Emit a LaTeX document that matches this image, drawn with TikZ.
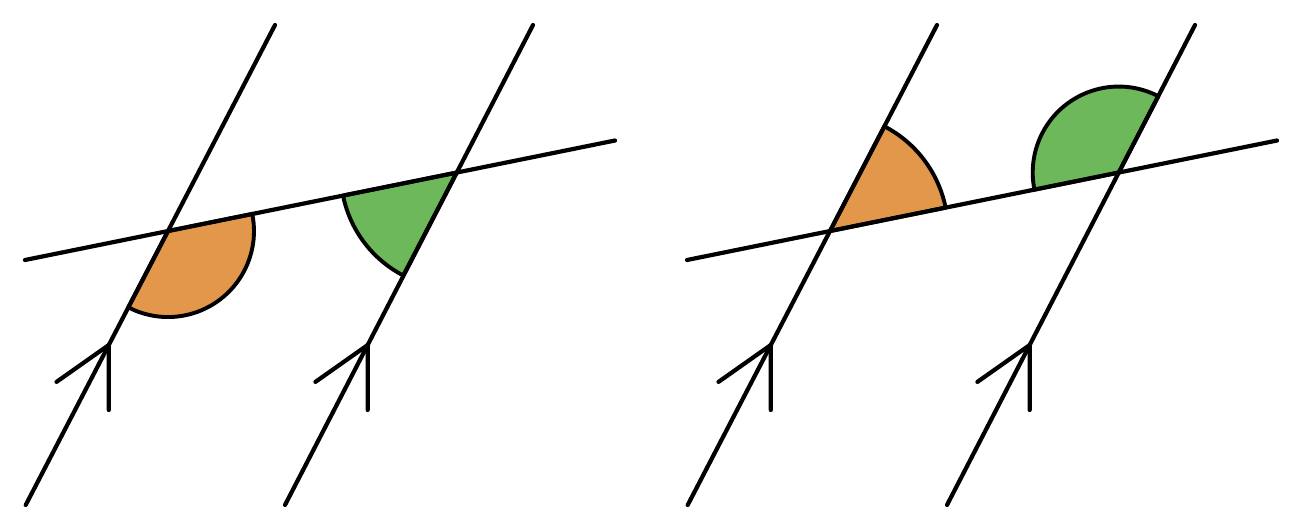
\documentclass[tikz,border=0pt]{standalone}
\usepackage{tikz}
\definecolor{angorange}{HTML}{E3974A}
\definecolor{anggreen}{HTML}{6DB85B}
\tikzset{
  ln/.style={line width=4.2pt, line cap=round, line join=round, black},
  sector/.style={line width=3.9pt, line join=round, draw=black},
}
\begin{document}
\begin{tikzpicture}[x=1pt,y=1pt]
\useasboundingbox (0,0) rectangle (1300,-531);
\fill[white] (0,0) rectangle (1300,-531);
% ---- left diagram ----
\coordinate (L1a) at (25.7,-505); \coordinate (L1b) at (275,-25);
\coordinate (L2a) at (285,-505);  \coordinate (L2b) at (533,-25);
\coordinate (T1a) at (25,-260);   \coordinate (T1b) at (615,-140.5);
\coordinate (I1) at (intersection of L1a--L1b and T1a--T1b);
\coordinate (I2) at (intersection of L2a--L2b and T1a--T1b);
% ---- right diagram ----
\coordinate (L3a) at (687.7,-505); \coordinate (L3b) at (937,-25);
\coordinate (L4a) at (947,-505);   \coordinate (L4b) at (1195,-25);
\coordinate (T2a) at (687,-260);   \coordinate (T2b) at (1277,-140.5);
\coordinate (I3) at (intersection of L3a--L3b and T2a--T2b);
\coordinate (I4) at (intersection of L4a--L4b and T2a--T2b);
% sectors
\filldraw[sector, fill=angorange] (I1) -- ++(11.45:86pt) arc[start angle=11.45, end angle=-117.45, radius=86pt] -- cycle;
\filldraw[sector, fill=anggreen] (I2) -- ++(191.45:116pt) arc[start angle=191.45, end angle=242.55, radius=116pt] -- cycle;
\filldraw[sector, fill=angorange] (I3) -- ++(11.45:118pt) arc[start angle=11.45, end angle=62.55, radius=118pt] -- cycle;
\filldraw[sector, fill=anggreen] (I4) -- ++(62.55:86pt) arc[start angle=62.55, end angle=191.45, radius=86pt] -- cycle;
% lines
\draw[ln] (L1a) -- (L1b);
\draw[ln] (L2a) -- (L2b);
\draw[ln] (T1a) -- (T1b);
\draw[ln] (L3a) -- (L3b);
\draw[ln] (L4a) -- (L4b);
\draw[ln] (T2a) -- (T2b);
% arrow chevrons
\coordinate (A1) at (108.8,-345);
\coordinate (A2) at (367.7,-345);
\coordinate (A3) at (770.8,-345);
\coordinate (A4) at (1029.7,-345);
\foreach \p in {A1,A2,A3,A4}{
  \draw[ln] (\p) ++(215.2:64pt) -- (\p) -- ++(270:65pt);
}
\end{tikzpicture}
\end{document}
